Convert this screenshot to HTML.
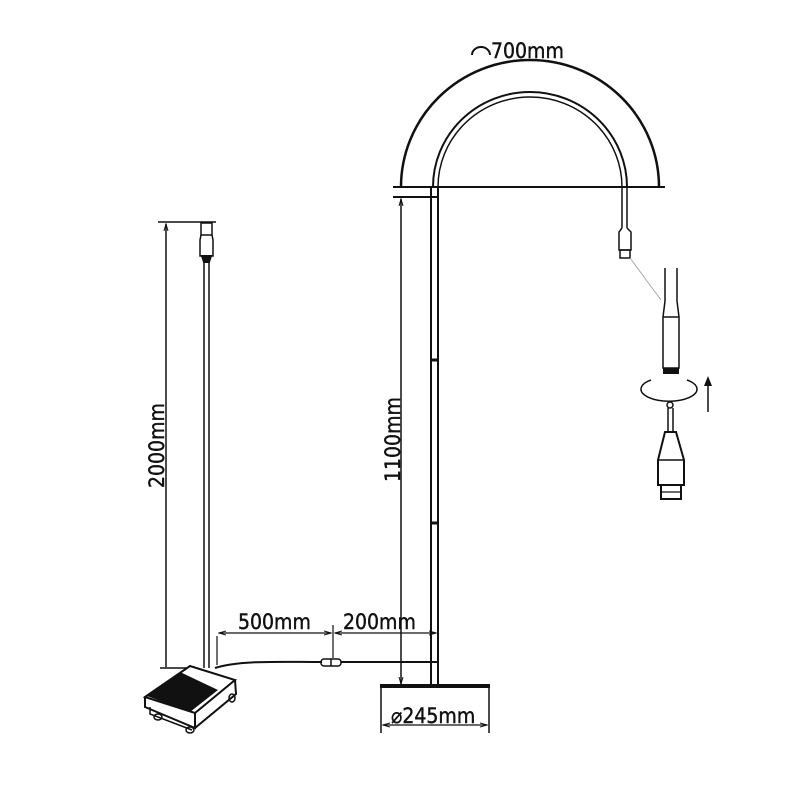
<!DOCTYPE html>
<html><head><meta charset="utf-8"><style>
html,body{margin:0;padding:0;background:#fff;}
svg{display:block}
text{font-family:"DejaVu Sans Condensed","Liberation Sans",sans-serif;fill:#111;stroke:#111;stroke-width:0.4}
</style></head><body>
<svg width="800" height="800" viewBox="0 0 800 800" xmlns="http://www.w3.org/2000/svg">
<defs>
<marker id="ar" markerWidth="8" markerHeight="8" refX="7" refY="4" orient="auto-start-reverse" markerUnits="userSpaceOnUse">
<path d="M0,2 L7,4 L0,6" fill="none" stroke="#111" stroke-width="1"/></marker>
</defs>
<g fill="none" stroke="#111" stroke-width="2">
<path d="M401,187 A129,127 0 0 1 659,187" stroke-width="2.5"/>
<path d="M433,187 A97,95 0 0 1 627,187"/>
<path d="M438,187 A92,90 0 0 1 622,187" stroke-width="1.5"/>
<line x1="393" y1="187" x2="665" y2="187"/>
<line x1="393" y1="197" x2="437" y2="197"/>
<line x1="431" y1="187" x2="431" y2="686"/>
<line x1="438" y1="187" x2="438" y2="686"/>
<line x1="431" y1="360" x2="438" y2="360" stroke-width="3"/>
<line x1="431" y1="523" x2="438" y2="523" stroke-width="3"/>
<line x1="401" y1="199" x2="401" y2="684" stroke-width="1.5" marker-start="url(#ar)" marker-end="url(#ar)"/>
<line x1="622" y1="187" x2="622" y2="228" stroke-width="1.5"/>
<line x1="627" y1="187" x2="627" y2="228" stroke-width="1.5"/>
<path d="M622,228 L619,232 L619,250 L631,250 L631,232 L627,228" stroke-width="1.5"/>
<rect x="620" y="250" width="10" height="8" stroke-width="1.5"/>
<line x1="630" y1="258" x2="661" y2="300" stroke="#aaa" stroke-width="1"/>
<line x1="665" y1="268" x2="665" y2="301" stroke-width="1.5"/>
<line x1="677" y1="268" x2="677" y2="301" stroke-width="1.5"/>
<path d="M665,301 L663,317 L663,368 L679,368 L679,317 L677,301" stroke-width="1.5"/>
<line x1="663" y1="317" x2="679" y2="317" stroke-width="1.5"/>
<rect x="663" y="368" width="16" height="6" fill="#111" stroke="none"/>
<path d="M651,380 A28,12 0 1 0 687,380" stroke-width="1.5"/>
<line x1="708" y1="412" x2="708" y2="384" stroke-width="1.5"/>
<path d="M704,386 L708,376 L712,386 Z" fill="#111" stroke="none"/>
<circle cx="670" cy="405" r="3" stroke-width="1.5"/>
<path d="M668,408 L668,432 M673,408 L673,432" stroke-width="1.5"/>
<path d="M665,432 L676,432 L684,460 L684,485 L658,485 L658,460 Z" stroke-width="2"/>
<line x1="658" y1="460" x2="684" y2="460" stroke-width="1.5"/>
<rect x="661" y="485" width="20" height="14" stroke-width="2"/>
<line x1="661" y1="492" x2="681" y2="492" stroke-width="1.2"/>
<line x1="380" y1="686" x2="490" y2="686" stroke-width="4"/>
<line x1="381" y1="686" x2="381" y2="733" stroke-width="1.5"/>
<line x1="489" y1="686" x2="489" y2="733" stroke-width="1.5"/>
<line x1="383" y1="725" x2="487" y2="725" stroke-width="1.2" marker-start="url(#ar)" marker-end="url(#ar)"/>
<path d="M215,668 C240,660 280,662 322,662" stroke-width="2"/>
<rect x="321" y="659" width="20" height="7" rx="3" stroke-width="1.5"/>
<line x1="331" y1="659" x2="331" y2="666" stroke-width="1.5"/>
<line x1="341" y1="662" x2="438" y2="662" stroke-width="2"/>
<line x1="217" y1="636" x2="217" y2="665" stroke-width="1.2"/>
<line x1="333" y1="625" x2="333" y2="658" stroke-width="1.2"/>
<line x1="219" y1="633" x2="331" y2="633" stroke-width="1.2" marker-start="url(#ar)" marker-end="url(#ar)"/>
<line x1="335" y1="633" x2="436" y2="633" stroke-width="1.2" marker-start="url(#ar)" marker-end="url(#ar)"/>
<line x1="158" y1="222" x2="216" y2="222" stroke-width="1.5"/>
<line x1="166" y1="224" x2="166" y2="667" stroke-width="1.5" marker-start="url(#ar)"/>
<line x1="160" y1="668" x2="190" y2="668" stroke-width="1.5"/>
<line x1="204" y1="262" x2="204" y2="668" stroke-width="1.5"/>
<line x1="209" y1="262" x2="209" y2="668" stroke-width="1.5"/>
<rect x="201" y="223" width="11" height="12" stroke-width="1.5"/>
<path d="M201,235 L200,240 L200,256 L213,256 L213,240 L212,235" stroke-width="1.5"/>
<path d="M202,256 L211,256 L209,262 L204,262 Z" fill="#111"/>
<path d="M145,697 L190,666 L235,680 L195,713 Z" fill="#fff" stroke-width="2"/>
<path d="M147,696 L180,672 L218,690 L190,712 Z" fill="#111" stroke="none"/>
<path d="M145,697 L145,707 L195,728 L195,713 M195,728 L236,694 L235,680" stroke-width="2"/>
<path d="M150,707 L150,714 L192,730" stroke-width="1.5"/>
<ellipse cx="158" cy="717" rx="4" ry="3" stroke-width="1.5"/>
<ellipse cx="190" cy="730" rx="4" ry="3" stroke-width="1.5"/>
<ellipse cx="232" cy="698" rx="3" ry="4" stroke-width="1.5"/>
</g>
<path d="M472,55 A9,8 0 0 1 490,55" fill="none" stroke="#111" stroke-width="2"/>
<text x="491" y="58" font-size="21">700mm</text>
<text x="238" y="629" font-size="21">500mm</text>
<text x="343" y="629" font-size="21">200mm</text>
<text x="391" y="723" font-size="21">⌀245mm</text>
<text transform="translate(164,488) rotate(-90)" font-size="21">2000mm</text>
<text transform="translate(400,482) rotate(-90)" font-size="21">1100mm</text>
</svg>
</body></html>
